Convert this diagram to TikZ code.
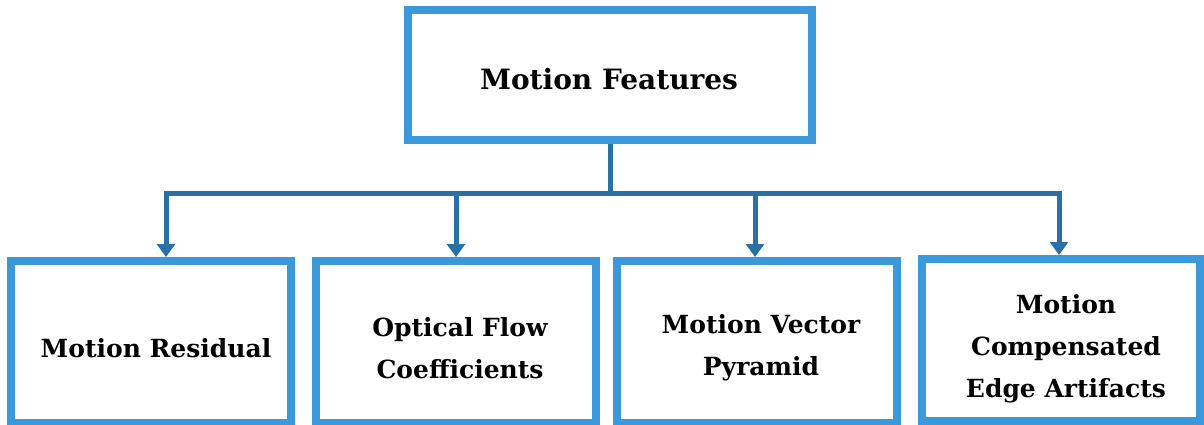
\documentclass[tikz,border=0pt]{standalone}
\usepackage{fontspec}
\setmainfont{DejaVu Serif}
\usetikzlibrary{arrows.meta}
\definecolor{boxblue}{RGB}{58,152,219}
\definecolor{linkblue}{RGB}{40,112,166}
\begin{document}
\begin{tikzpicture}[x=1pt,y=-1pt,
  box/.style={draw=boxblue, line width=8pt, fill=white, inner sep=0pt,
    minimum width=280pt, minimum height=162pt},
  lbl/.style={font=\bfseries\fontsize{25}{42}\selectfont, align=center, text=black},
  conn/.style={draw=linkblue, line width=5pt},
  arr/.style={conn, -{Triangle[width=18pt,length=13pt]}}]
\useasboundingbox (0,0) rectangle (1204,425);

% root box
\node[box, minimum width=404pt, minimum height=130pt] (top) at (610,75) {};
\node[lbl, font=\bfseries\fontsize{28}{34}\selectfont] (topl) at (609,79) {Motion Features};

% child boxes
\node[box] (b1) at (151,342) {};
\node[box] (b2) at (456,342) {};
\node[box] (b3) at (757,342) {};
\node[box, minimum width=278pt] (b4) at (1061,340) {};

\node[lbl] (l1) at (156,348) {Motion Residual};
\node[lbl] (l2) at (460,348) {Optical Flow\\Coefficients};
\node[lbl] (l3) at (761,348) {Motion Vector\\Pyramid};
\node[lbl] (l4) at (1066,349) {Motion\\Compensated\\Edge Artifacts};

% connectors
\coordinate (bus) at (0,193);
\coordinate (a1) at ([xshift=15pt]b1.north);
\coordinate (a2) at (b2.north);
\coordinate (a3) at ([xshift=-2pt]b3.north);
\coordinate (a4) at ([xshift=-2pt]b4.north);
\draw[conn] (top.south) -- (top.south |- bus);
\draw[conn, line cap=rect] (a1 |- bus) -- (a4 |- bus);
\draw[arr] (a1 |- bus) -- (a1);
\draw[arr] (a2 |- bus) -- (a2);
\draw[arr] (a3 |- bus) -- (a3);
\draw[arr] (a4 |- bus) -- (a4);
\end{tikzpicture}
\end{document}
